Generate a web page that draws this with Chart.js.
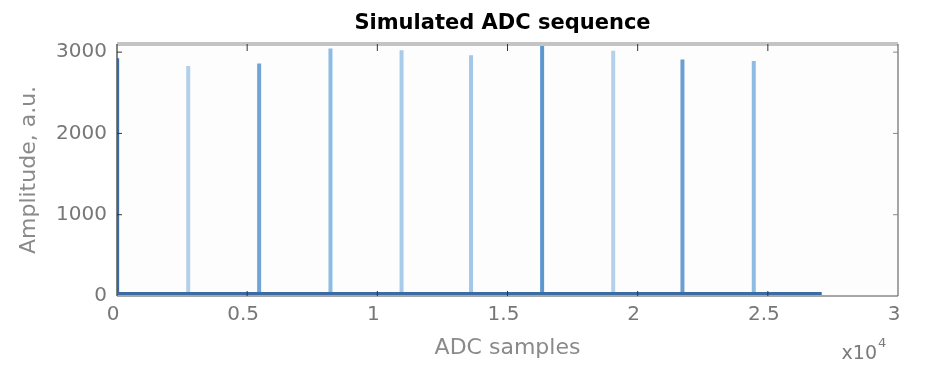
<!DOCTYPE html>
<html>
<head>
<meta charset="utf-8">
<script src="https://cdn.jsdelivr.net/npm/chart.js@4"></script>
<style>
  html, body { margin: 0; padding: 0; background: #ffffff; }
  #wrap { width: 931px; height: 378px; }
</style>
</head>
<body>
<div id="wrap"><canvas id="c" width="931" height="378"></canvas></div>
<script>
// ---- data ----
const chartTitle = "Simulated ADC sequence";
const xTitle = "ADC samples";
const yTitle = "Amplitude, a.u.";
const peakSamples = [0, 2735, 5460, 8200, 10930, 13600, 16330, 19060, 21720, 24460];
const peakHeights = [2926, 2828, 2861, 3045, 3024, 2963, 3100, 3016, 2910, 2890];
const peakColors = ["#2f5f94", "#b3cfe9", "#6fa5d8", "#8dbbe3", "#a9cbea", "#a4c6e8", "#5c97d0", "#b4d0ea", "#6a9fd3", "#8ebce4"];
const baselineLevel = 30;
const recordEnd = 27070;
const firstDecayEnd = 25;
const xRange = [0, 30000];
const yRange = [0, 3100];
const xTickValues = [0, 5000, 10000, 15000, 20000, 25000, 30000];
const yTickValues = [0, 1000, 2000, 3000];
const xExponentBase = "x10";
const xExponent = "4";

// ---- datasets built from the arrays ----
const datasets = [];
datasets.push({
  data: [{x: peakSamples[0], y: peakHeights[0]}, {x: firstDecayEnd, y: baselineLevel}, {x: recordEnd, y: baselineLevel}],
  borderColor: "#3a6ca3", borderWidth: 3, pointRadius: 0, tension: 0, order: 0
});
for (let i = 1; i < peakSamples.length; i++) {
  datasets.push({
    data: [{x: peakSamples[i], y: baselineLevel}, {x: peakSamples[i], y: peakHeights[i]}],
    borderColor: peakColors[i], borderWidth: 4, pointRadius: 0, tension: 0, order: 1
  });
}

const frame = {
  id: 'frame',
  beforeDatasetsDraw(chart) {
    const {ctx, chartArea: a} = chart;
    ctx.save();
    ctx.fillStyle = "#fdfdfd";
    ctx.fillRect(a.left, a.top, a.right - a.left, a.bottom - a.top);
    ctx.strokeStyle = "#8a8a8a"; ctx.lineWidth = 1.5;
    ctx.beginPath(); ctx.moveTo(a.left, a.bottom); ctx.lineTo(a.right, a.bottom); ctx.stroke();
    ctx.restore();
  },
  afterDatasetsDraw(chart) {
    const {ctx, chartArea: a, scales} = chart;
    ctx.save();
    ctx.strokeStyle = "#c4c4c4"; ctx.lineWidth = 4;
    ctx.beginPath(); ctx.moveTo(a.left, a.top); ctx.lineTo(a.right, a.top); ctx.stroke();
    ctx.strokeStyle = "#6a6a6a"; ctx.lineWidth = 1.2;
    ctx.beginPath(); ctx.moveTo(a.right, a.top); ctx.lineTo(a.right, a.bottom); ctx.stroke();
    ctx.strokeStyle = "#5a5a5a"; ctx.lineWidth = 1.5;
    ctx.beginPath(); ctx.moveTo(a.left, a.top); ctx.lineTo(a.left, a.bottom); ctx.stroke();
    ctx.strokeStyle = "#333"; ctx.lineWidth = 1;
    const tl = 5;
    scales.x.ticks.forEach(t => {
      const px = scales.x.getPixelForValue(t.value);
      if (t.value <= xRange[0] || t.value >= xRange[1]) return;
      ctx.beginPath(); ctx.moveTo(px, a.bottom); ctx.lineTo(px, a.bottom - tl); ctx.stroke();
      ctx.beginPath(); ctx.moveTo(px, a.top); ctx.lineTo(px, a.top + tl + 2); ctx.stroke();
    });
    scales.y.ticks.forEach(t => {
      const py = scales.y.getPixelForValue(t.value);
      if (t.value <= yRange[0]) return;
      ctx.strokeStyle = "#333";
      ctx.beginPath(); ctx.moveTo(a.left, py); ctx.lineTo(a.left + tl, py); ctx.stroke();
      ctx.strokeStyle = "#888";
      ctx.beginPath(); ctx.moveTo(a.right, py); ctx.lineTo(a.right - tl, py); ctx.stroke();
    });
    ctx.restore();
  },
  afterDraw(chart) {
    const {ctx, chartArea: a} = chart;
    ctx.save();
    ctx.fillStyle = "#000";
    ctx.font = "bold 21px 'DejaVu Sans'";
    ctx.textAlign = "center"; ctx.textBaseline = "alphabetic";
    ctx.fillText(chartTitle, (a.left + a.right) / 2 - 5, 29);
    ctx.fillStyle = "#7a7a7a";
    ctx.font = "19px 'DejaVu Sans'";
    ctx.textAlign = "right";
    ctx.fillText(xExponentBase, a.right - 21, 359);
    ctx.font = "13px 'DejaVu Sans'";
    ctx.textAlign = "left";
    ctx.fillText(xExponent, a.right - 20, 347);
    ctx.restore();
  }
};

new Chart(document.getElementById('c'), {
  type: 'line',
  data: { datasets },
  plugins: [frame],
  options: {
    responsive: false,
    animation: false,
    layout: { padding: { top: 44, right: 33, left: 0, bottom: 0 } },
    plugins: { legend: { display: false }, tooltip: { enabled: false }, title: { display: false } },
    scales: {
      x: {
        type: 'linear', min: xRange[0], max: xRange[1],
        grid: { display: false, drawTicks: false },
        border: { display: false },
        afterBuildTicks: s => { s.ticks = xTickValues.map(v => ({ value: v })); },
        ticks: {
          autoSkip: false, padding: 7, labelOffset: -4, color: "#777", maxRotation: 0,
          font: { family: "'DejaVu Sans'", size: 20 },
          callback: v => String(v / 10000)
        },
        title: { display: true, text: xTitle, color: "#8a8a8a", font: { family: "'DejaVu Sans'", size: 22 }, padding: { top: 0, bottom: 17 } },
        afterFit: s => { s.height = 82; }
      },
      y: {
        type: 'linear', min: yRange[0], max: yRange[1],
        grid: { display: false, drawTicks: false },
        border: { display: false },
        afterBuildTicks: s => { s.ticks = yTickValues.map(v => ({ value: v })); },
        ticks: { autoSkip: false, padding: 10, color: "#777", font: { family: "'DejaVu Sans'", size: 20 }, callback: v => String(v) },
        title: { display: true, text: yTitle, color: "#8a8a8a", font: { family: "'DejaVu Sans'", size: 22 }, padding: { top: 16, bottom: 0 } },
        afterFit: s => { s.width = 117; }
      }
    }
  }
});
</script>
</body>
</html>
